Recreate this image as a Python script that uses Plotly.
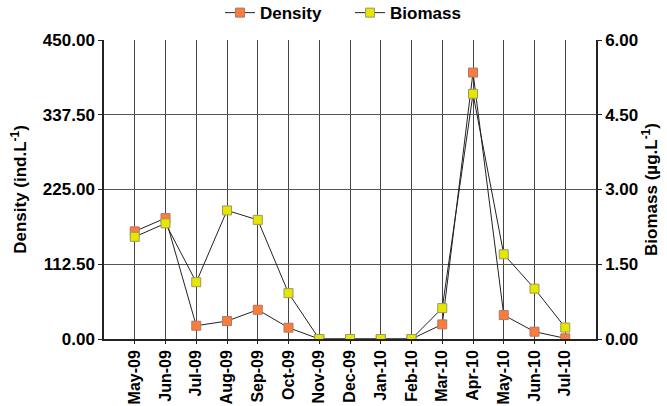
import plotly.graph_objects as go

months = ["May-09", "Jun-09", "Jul-09", "Aug-09", "Sep-09", "Oct-09", "Nov-09", "Dec-09",
          "Jan-10", "Feb-10", "Mar-10", "Apr-10", "May-10", "Jun-10", "Jul-10"]
density = [162, 182, 20, 27, 44, 17, 0, 0, 0, 0, 22, 401, 36, 11, 1]
biomass = [2.05, 2.32, 1.14, 2.58, 2.39, 0.92, 0, 0, 0, 0, 0.62, 4.92, 1.70, 1.01, 0.23]
density_ticks = [0, 112.5, 225, 337.5, 450]
biomass_ticks = [0, 1.5, 3, 4.5, 6]

font = "Liberation Sans, Arial, sans-serif"
bold17 = dict(size=17, family=font, weight="bold", color="black")
bold16 = dict(size=16, family=font, weight="bold", color="black")

fig = go.Figure()
fig.add_trace(go.Scatter(
    x=months, y=density, name="Density", mode="lines+markers",
    line=dict(color="#222222", width=1),
    marker=dict(symbol="square", size=9, color="#FA7D3C", line=dict(color="#B0776A", width=1)),
))
fig.add_trace(go.Scatter(
    x=months, y=biomass, name="Biomass", mode="lines+markers", yaxis="y2",
    line=dict(color="#222222", width=1),
    marker=dict(symbol="square", size=9, color="#E6E600", line=dict(color="#9A9A60", width=1)),
))

fig.update_layout(
    width=667, height=406,
    margin=dict(l=104, r=71, t=40, b=67, autoexpand=False),
    paper_bgcolor="white", plot_bgcolor="white",
    font=dict(family=font, size=15, color="black"),
    showlegend=True,
    legend=dict(orientation="h", x=0.5, xanchor="center", y=1.09, yanchor="middle",
                font=bold17, bgcolor="rgba(0,0,0,0)", itemwidth=30, entrywidth=85),
    xaxis=dict(
        type="category", categoryorder="array", categoryarray=months, automargin=False,
        range=[-1, 15], tickangle=-90, showgrid=True, gridcolor="#444444", gridwidth=1,
        showline=True, linecolor="#222222", linewidth=1.5,
        ticks="outside", ticklen=3, tickcolor="#222222",
        tickfont=bold16, zeroline=False,
    ),
    yaxis=dict(
        range=[0, 450], tickvals=density_ticks, tickformat=".2f", automargin=False,
        showgrid=True, gridcolor="#555555", gridwidth=1,
        showline=True, linecolor="#222222", linewidth=1.5,
        ticks="outside", ticklen=4, tickcolor="#222222", zeroline=False,
        tickfont=bold17,
        title=dict(text="Density (ind.L<sup>-1</sup>)", font=bold17, standoff=12),
    ),
    yaxis2=dict(
        range=[0, 6], tickvals=biomass_ticks, tickformat=".2f", overlaying="y", side="right",
        automargin=False,
        showgrid=False, showline=True, linecolor="#222222", linewidth=1.5,
        ticks="outside", ticklen=4, tickcolor="#222222", zeroline=False,
        tickfont=bold17,
        title=dict(text="Biomass (µg.L<sup>-1</sup>)", font=bold17, standoff=8),
    ),
)
fig.write_html("out.html", config={"displayModeBar": False},
               post_script="document.body.style.margin='0';document.body.style.overflow='hidden';")
